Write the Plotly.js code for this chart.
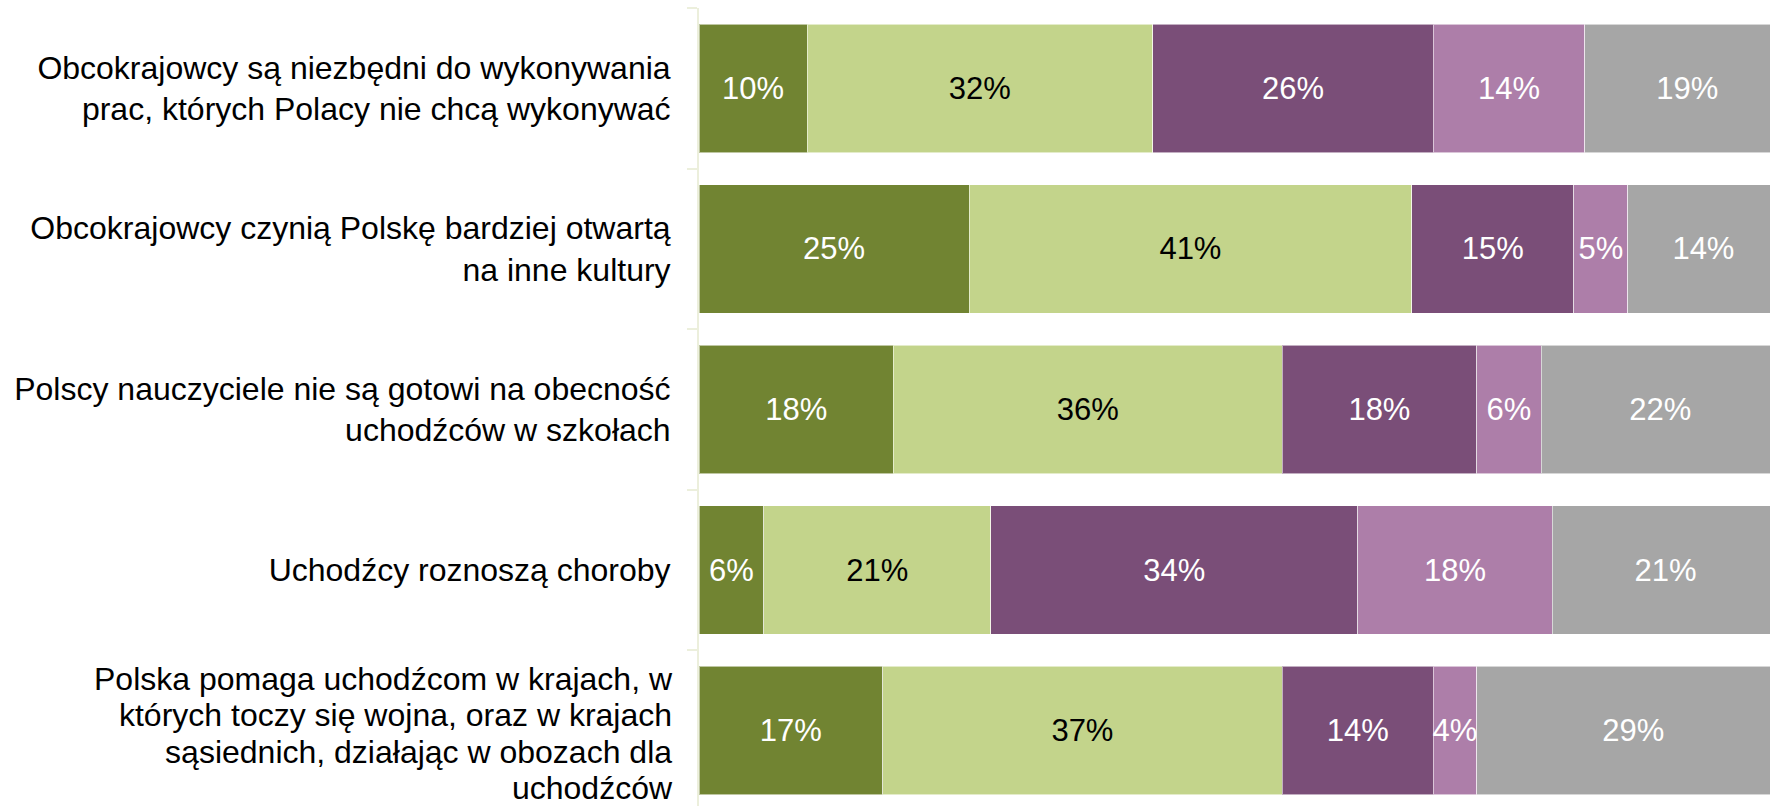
<!DOCTYPE html>
<html>
<head>
<meta charset="utf-8">
<script src="https://cdn.plot.ly/plotly-3.0.1.min.js"></script>
<style>
html, body { margin: 0; padding: 0; overflow: hidden; background: #ffffff; }
#chart { width: 1780px; height: 812px; }
</style>
</head>
<body>
<div id="chart"></div>
<script>
const categories = [
  "Obcokrajowcy są niezbędni do wykonywania<br>prac, których Polacy nie chcą wykonywać",
  "Obcokrajowcy czynią Polskę bardziej otwartą<br>na inne kultury",
  "Polscy nauczyciele nie są gotowi na obecność<br>uchodźców w szkołach",
  "Uchodźcy roznoszą choroby",
  "Polska pomaga uchodźcom w krajach, w<br>których toczy się wojna, oraz w krajach<br>sąsiednich, działając w obozach dla<br>uchodźców"
];
const seriesNames = ["Zdecydowanie się zgadzam", "Raczej się zgadzam", "Raczej się nie zgadzam", "Zdecydowanie się nie zgadzam", "Trudno powiedzieć"];
const zdecydowanieTak = [10, 25, 18, 6, 17];
const raczejTak = [32, 41, 36, 21, 37];
const raczejNie = [26, 15, 18, 34, 14];
const zdecydowanieNie = [14, 5, 6, 18, 4];
const trudnoPowiedziec = [19, 14, 22, 21, 29];

const seriesValues = [zdecydowanieTak, raczejTak, raczejNie, zdecydowanieNie, trudnoPowiedziec];
const colors = ["#718432", "#C3D48B", "#7A4E78", "#AD7EA9", "#A6A6A6"];
const textColors = ["#ffffff", "#000000", "#ffffff", "#ffffff", "#ffffff"];
const FONT = "Liberation Sans, Arial, Helvetica, sans-serif";

const traces = seriesValues.map((vals, i) => ({
  type: "bar",
  orientation: "h",
  name: seriesNames[i],
  y: categories,
  x: vals,
  marker: { color: colors[i], line: { color: "rgba(255,255,255,0.55)", width: 1 } },
  texttemplate: "%{x}%",
  textposition: "inside",
  insidetextanchor: "middle",
  textangle: 0,
  constraintext: "none",
  textfont: { family: FONT, size: 31, color: textColors[i] },
  hoverinfo: "skip",
  showlegend: false
}));

// The last (4-line) label is set more tightly in the reference, so it is drawn
// as an annotation with a smaller line pitch; the others stay as tick labels.
const lastIdx = categories.length - 1;
const tickText = categories.map((c, i) => (i === lastIdx ? "" : c));

const layout = {
  width: 1780,
  height: 812,
  margin: { l: 699, r: 1, t: 8, b: 1, pad: 0 },
  barmode: "stack",
  bargap: 0.2,
  paper_bgcolor: "#ffffff",
  plot_bgcolor: "#ffffff",
  font: { family: FONT, size: 31, color: "#000000" },
  xaxis: {
    range: [0, 100],
    visible: false,
    showgrid: false,
    zeroline: false,
    fixedrange: true
  },
  yaxis: {
    type: "category",
    autorange: "reversed",
    tickmode: "array",
    tickvals: categories,
    ticktext: tickText,
    showline: true,
    linecolor: "#ECEFDC",
    linewidth: 2,
    ticks: "outside",
    tickson: "boundaries",
    ticklen: 10,
    tickwidth: 2,
    tickcolor: "#ECEFDC",
    ticklabelstandoff: 20,
    tickfont: { family: FONT, size: 32, color: "#000000" },
    showgrid: false,
    zeroline: false,
    fixedrange: true
  },
  annotations: [{
    xref: "paper",
    yref: "y",
    x: 0,
    y: categories[lastIdx],
    xanchor: "right",
    yanchor: "middle",
    xshift: -25,
    yshift: -3,
    align: "right",
    showarrow: false,
    borderpad: 0,
    font: { family: FONT, size: 28, color: "#000000" },
    text: categories[lastIdx].split("<br>").map(s => '<span style="font-size:32px">' + s + '</span>').join("<br>")
  }]
};

Plotly.newPlot("chart", traces, layout, { displayModeBar: false, staticPlot: true });
</script>
</body>
</html>
